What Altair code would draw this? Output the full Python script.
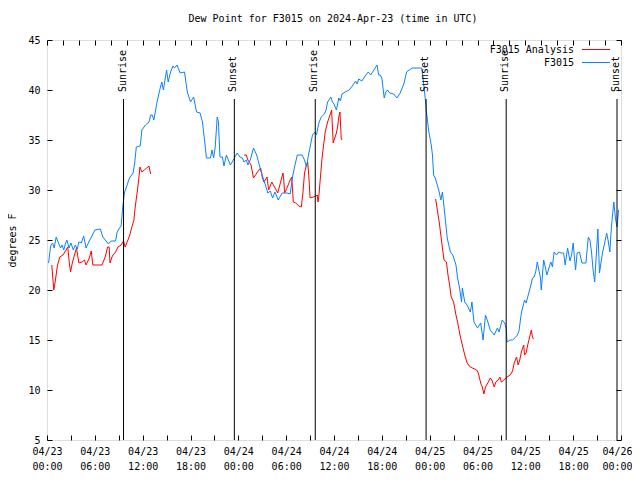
import altair as alt
import pandas as pd

# ---- data (hours since 2024-04-23 00:00 UTC, dew point in F) ----
blue_h = [0.2, 0.45, 0.7, 0.9, 1.15, 1.4, 1.7, 1.9, 2.1, 2.3, 2.5, 2.75, 3.0, 3.3, 3.55, 3.8, 4.0, 4.3,
          4.6, 4.9, 5.3, 5.7, 6.0, 6.7, 7.0, 7.3, 7.7, 8.05, 8.6, 8.8, 9.1, 9.3, 9.5, 9.7, 10.05, 10.35,
          10.8, 11.0, 11.2, 11.7, 11.9, 12.35, 12.8, 13.0, 13.2, 13.4, 13.8, 14.2, 14.4, 14.6, 15.0, 15.2,
          15.5, 15.8, 16.0, 16.3, 16.7, 17.25, 17.6, 18.0, 18.4, 18.75, 19.2, 19.5, 19.8, 20.0, 20.5, 20.7,
          20.9, 21.1, 21.35, 21.5, 21.7, 22.0, 22.2, 22.5, 23.0, 23.3, 23.85, 24.2, 24.5, 24.7, 25.0, 25.2,
          25.5, 25.9, 26.3, 26.8, 27.1, 27.4, 27.7, 28.0, 28.3, 28.6, 29.0, 29.5, 30.1, 30.5, 30.8, 31.05,
          31.4, 32.0, 32.3, 32.55, 32.8, 33.0, 33.3, 33.6, 33.8, 34.1, 34.4, 34.8, 35.0, 35.2, 35.6, 35.8,
          36.0, 36.3, 36.6, 36.8, 37.0, 37.4, 37.9, 38.3, 38.7, 38.9, 39.1, 39.5, 40.0, 40.3, 40.6, 41.0,
          41.4, 41.6, 41.8, 42.0, 42.3, 42.5, 42.7, 43.0, 43.5, 43.9, 44.3, 44.8, 45.1, 45.8, 47.0, 47.2,
          47.4, 47.6, 47.9, 48.2, 48.35, 48.5, 48.7, 48.96, 49.2, 49.4, 49.6, 49.8, 50.0, 50.2, 50.6, 50.9,
          51.3, 51.5, 51.75, 52.0, 52.1, 52.4, 52.7, 53.1, 53.3, 53.55, 54.0, 54.4, 54.7, 55.0, 55.3, 55.6,
          56.1, 56.5, 56.7, 57.1, 57.4, 57.6, 57.7, 58.1, 58.4, 58.8, 59.0, 59.2, 59.5, 59.75, 59.9, 60.1,
          60.3, 60.7, 60.9, 61.1, 61.3, 61.5, 61.7, 61.9, 62.0, 62.3, 62.5, 62.7, 63.0, 63.2, 63.4, 63.6,
          63.9, 64.2, 64.5, 64.8, 65.0, 65.3, 65.6, 65.8, 66.0, 66.3, 66.5, 66.8, 67.1, 67.6, 67.9, 68.1,
          68.3, 68.5, 68.7, 68.9, 69.1, 69.3, 69.5, 69.7, 69.95, 70.2, 70.4, 70.6, 70.8, 71.0, 71.1, 71.3,
          71.5, 71.7]
blue_v = [22.7, 24.4, 24.7, 24.2, 25.3, 24.8, 24.2, 24.5, 24.0, 24.6, 25.0, 24.2, 24.7, 24.0, 24.5, 24.1, 24.8, 24.7,
          25.4, 24.2, 24.9, 25.5, 26.0, 26.1, 25.3, 25.0, 24.6, 24.9, 24.9, 25.8, 26.2, 26.4, 28.3, 29.7, 30.5, 31.2,
          31.7, 32.7, 34.3, 34.4, 36.0, 36.5, 36.8, 37.5, 37.5, 37.0, 38.8, 40.2, 40.8, 40.0, 42.0, 40.8,
          41.8, 42.4, 42.2, 42.5, 41.7, 41.8, 39.8, 38.8, 39.3, 37.8, 37.7, 36.8, 34.7, 33.2, 33.2, 34.0,
          33.2, 34.3, 37.3, 36.8, 33.3, 33.3, 32.4, 33.5, 32.5, 32.9, 33.7, 33.3, 33.2, 32.8, 33.0, 32.5,
          33.0, 34.2, 33.5, 32.0, 31.2, 30.5, 29.7, 29.9, 29.2, 29.8, 29.0, 29.7, 29.7, 29.6, 31.3, 32.3,
          33.5, 33.5, 33.0, 32.3, 33.5, 34.3, 35.5, 35.8, 35.5, 36.7, 37.3, 37.6, 38.0, 38.8, 39.3, 38.8,
          38.6, 38.0, 39.2, 38.9, 39.6, 39.8, 40.0, 40.4, 40.9, 40.6, 41.1, 40.9, 41.5, 41.8, 41.5, 42.0,
          42.5, 41.5, 41.5, 41.2, 39.2, 39.8, 40.0, 39.7, 39.6, 39.2, 39.7, 40.7, 41.8, 42.2, 42.2, 41.0,
          39.5, 37.8, 35.8, 34.5, 33.5, 31.5, 31.2, 30.5, 29.8, 29.0, 29.8, 28.3, 26.8, 25.2, 23.8, 23.5,
          22.5, 21.2, 20.2, 18.8, 20.2, 18.8, 18.5, 17.8, 18.8, 16.8, 16.2, 16.7, 15.0, 17.5, 16.8, 16.0,
          15.5, 16.2, 15.8, 17.0, 16.7, 16.2, 14.8, 15.0, 15.0, 15.3, 15.5, 15.9, 17.7, 18.5, 19.0, 18.7,
          19.3, 20.5, 21.2, 21.3, 21.8, 22.8, 22.0, 21.2, 20.0, 23.0, 22.3, 21.5, 22.3, 22.8, 22.3, 23.8,
          23.5, 23.8, 23.7, 23.7, 22.5, 24.2, 22.9, 23.5, 24.7, 22.0, 23.7, 23.8, 22.7, 22.7, 25.3, 25.0,
          23.8, 22.0, 20.8, 23.5, 26.1, 21.7, 22.8, 23.8, 24.7, 25.7, 24.9, 23.8, 26.3, 28.0, 28.8, 27.2,
          26.3, 28.0]

red1_h = [0.6, 0.85, 1.0, 1.3, 1.6, 2.0, 2.4, 2.6, 2.8, 2.95, 3.2, 3.7, 4.0, 4.4, 4.7, 4.9, 5.3, 5.55, 5.75,
          6.9, 7.3, 7.6, 7.8, 7.9, 8.2, 8.6, 8.9, 9.3, 9.6, 9.8, 10.0, 10.35, 10.65, 10.9, 11.05, 11.3, 11.5,
          11.65, 11.9, 12.2, 12.5, 12.8, 13.0]
red1_v = [22.5, 20.0, 20.7, 22.4, 23.3, 23.5, 24.0, 24.3, 22.7, 21.8, 22.8, 24.2, 22.7, 22.8, 23.0, 22.5, 23.2, 23.9, 22.5,
          22.5, 23.3, 24.3, 24.3, 22.7, 23.4, 23.8, 24.3, 24.5, 24.9, 24.3, 24.7, 25.4, 26.3, 27.0, 28.2, 29.7, 31.0,
          32.3, 31.8, 32.0, 32.2, 32.4, 31.6]
red2_h = [24.7, 25.0, 25.2, 25.6, 25.9, 26.4, 26.8, 27.0, 27.2, 27.6, 27.8, 28.2, 28.6, 28.95, 29.3, 29.6, 29.7,
          29.8, 30.1, 30.5, 30.7, 30.8, 30.9, 31.2, 31.6, 31.9, 32.1, 32.3, 32.55, 32.7, 32.85, 33.0, 33.4, 33.7,
          33.9, 34.0, 34.1, 34.3, 34.5, 34.7, 34.9, 35.2, 35.5, 35.7, 35.9, 36.3, 36.45, 36.6, 36.75, 36.9, 37.0]
red2_v = [33.5, 33.5, 33.0, 32.5, 31.2, 31.8, 32.2, 31.3, 30.8, 31.3, 30.0, 30.8, 30.2, 29.7, 30.8, 31.7, 31.0,
          29.7, 30.2, 31.0, 31.3, 30.0, 28.8, 28.7, 28.4, 28.3, 29.7, 31.7, 32.5, 32.8, 31.3, 29.2, 29.3, 29.4,
          29.5, 28.8, 29.4, 31.3, 33.2, 34.5, 35.8, 36.8, 37.5, 38.0, 34.7, 35.7, 36.3, 37.3, 37.8, 35.2, 35.0]
red3_h = [48.75, 49.0, 49.2, 49.4, 49.6, 49.8, 50.1, 50.3, 50.5, 50.7, 51.0, 51.3, 51.5, 51.8, 52.1, 52.4, 52.7,
          53.1, 53.9, 54.1, 54.4, 54.6, 54.8, 55.0, 55.3, 55.6, 55.8, 56.1, 56.3, 56.6, 56.8, 57.0, 57.3, 57.7,
          58.1, 58.4, 58.6, 58.9, 59.1, 59.3, 59.5, 59.8, 59.9, 60.1, 60.3, 60.6, 60.75, 60.9, 61.0]
red3_v = [29.1, 27.8, 26.8, 25.5, 24.2, 23.0, 22.8, 21.5, 20.5, 19.3, 18.8, 17.5, 16.8, 15.5, 14.5, 13.5, 12.7,
          12.3, 12.0, 11.7, 10.7, 10.3, 9.6, 10.3, 10.7, 11.2, 11.0, 10.3, 10.8, 11.0, 11.3, 10.8, 11.0, 11.3,
          11.5, 11.9, 12.7, 13.3, 12.5, 13.0, 13.8, 14.5, 13.5, 13.7, 14.5, 15.5, 16.0, 15.3, 15.1]

sun_h = [9.6, 23.5, 33.65, 47.55, 57.6, 71.5]
sun_label = ["Sunrise", "Sunset", "Sunrise", "Sunset", "Sunrise", "Sunset"]

series_names = ["F3015 Analysis", "F3015"]
title_text = "Dew Point for F3015 on 2024-Apr-23 (time in UTC)"
y_title = "degrees F"
x_tick_values = list(range(0, 73, 3))
x_top_tick_values = list(range(0, 73, 2))
y_tick_values = list(range(5, 46, 5))

# ---- styling ----
FONT = "DejaVu Sans Mono"
RED = "#ff0000"
BLUE = "#0c80ff"

blue_df = pd.DataFrame({"h": blue_h, "v": blue_v})
red_df = pd.concat([
    pd.DataFrame({"h": red1_h, "v": red1_v, "seg": 1}),
    pd.DataFrame({"h": red2_h, "v": red2_v, "seg": 2}),
    pd.DataFrame({"h": red3_h, "v": red3_v, "seg": 3}),
])
sun_df = pd.DataFrame({"h": sun_h, "label": sun_label})

xscale = alt.Scale(domain=[0, 72], nice=False, zero=False)
yscale = alt.Scale(domain=[5, 45], nice=False, zero=False)

label_expr = ("datum.value % 6 == 0 ? ['04/' + (23 + floor(datum.value / 24)), "
              "(floor(datum.value % 24) < 10 ? '0' : '') + floor(datum.value % 24) + ':00'] : ''")

common = dict(domain=False, grid=False, tickColor="black", tickWidth=1, labelColor="black",
              labelFont=FONT, labelFontSize=10)

x_bottom = alt.Axis(orient="bottom", values=x_tick_values, labelExpr=label_expr, offset=-5, tickSize=5,
                    labelPadding=6, labelLineHeight=15, labelOverlap=False, labelFlush=False,
                    labelBound=False, title=None,
                    labelOffset=alt.condition("datum.value == 72", alt.value(-4), alt.value(0)),
                    **common)
x_top = alt.Axis(orient="top", values=x_top_tick_values, labels=False, offset=-5, tickSize=5,
                 title=None, **common)
y_left = alt.Axis(orient="left", values=y_tick_values, offset=-5, tickSize=5, labelPadding=7,
                  labelOverlap=False, title=y_title, titleFont=FONT, titleFontSize=10,
                  titleFontWeight="normal", titleColor="black", titlePadding=10, **common)
y_right = alt.Axis(orient="right", values=y_tick_values, labels=False, offset=-5, tickSize=5,
                   title=None, **common)

rules = alt.Chart(sun_df).mark_rule(color="black", strokeWidth=1).encode(
    x=alt.X("h:Q", scale=xscale, axis=None), y=alt.value(59), y2=alt.value(400))
sun_text = alt.Chart(sun_df).mark_text(angle=270, align="left", baseline="middle", font=FONT,
                                       fontSize=10, color="black", dy=-1).encode(
    x=alt.X("h:Q", scale=xscale, axis=None), y=alt.value(52), text="label:N")

red = alt.Chart(red_df).mark_line(color=RED, strokeWidth=1).encode(
    x=alt.X("h:Q", scale=xscale, axis=x_top),
    y=alt.Y("v:Q", scale=yscale, axis=y_right),
    detail="seg:N")
blue = alt.Chart(blue_df).mark_line(color=BLUE, strokeWidth=1).encode(
    x=alt.X("h:Q", scale=xscale, axis=x_bottom),
    y=alt.Y("v:Q", scale=yscale, axis=y_left))

title_layer = alt.Chart(pd.DataFrame({"t": [title_text]})).mark_text(
    align="center", baseline="middle", font=FONT, fontSize=10, color="black").encode(
    text="t:N", x=alt.value(286), y=alt.value(-21))

leg_layers = []
for i, (name, col) in enumerate(zip(series_names, [RED, BLUE])):
    d = pd.DataFrame({"name": [name]})
    leg_layers.append(alt.Chart(d).mark_text(align="right", baseline="middle", font=FONT, fontSize=10,
                                             color="black").encode(
        text="name:N", x=alt.value(527), y=alt.value(9.5 + 13 * i)))
    leg_layers.append(alt.Chart(d).mark_rule(color=col, strokeWidth=1).encode(
        x=alt.value(535), x2=alt.value(563), y=alt.value(9.5 + 13 * i)))

chart = alt.layer(red, blue, rules, sun_text, title_layer, *leg_layers).resolve_axis(
    x="independent", y="independent"
).properties(
    width=574, height=400,
    autosize=alt.AutoSizeParams(type="none"),
    padding={"left": 39, "top": 32, "right": 11, "bottom": 32},
).configure_view(stroke="black", strokeWidth=1).configure(background="white")

chart.save("out.html", embed_options={"renderer": "svg", "actions": False})
